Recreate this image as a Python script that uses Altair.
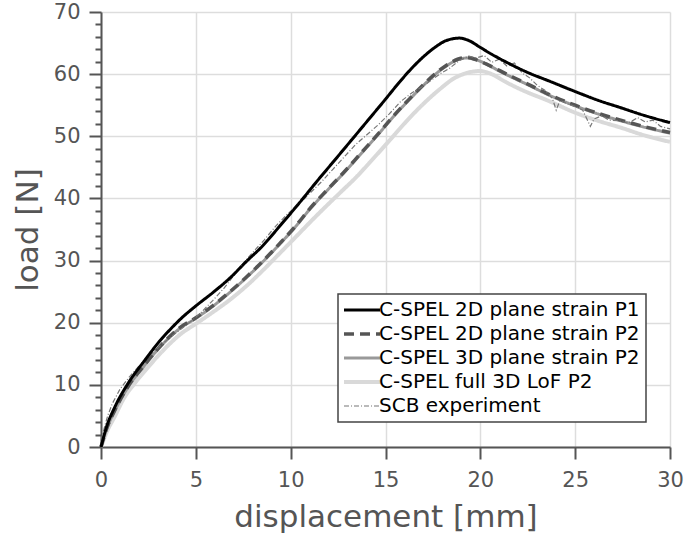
import altair as alt
import pandas as pd

# ---------------- data ----------------
series_names = [
    "C-SPEL 2D plane strain P1",
    "C-SPEL 2D plane strain P2",
    "C-SPEL 3D plane strain P2",
    "C-SPEL full 3D LoF P2",
    "SCB experiment",
]
series_colors = ["#000000", "#555555", "#999999", "#d9d9d9", "#777777"]
series_dashes = [[1, 0], [10, 6], [1, 0], [1, 0], [5, 2, 1, 2]]
series_widths = [3, 3.5, 3, 4, 1.2]

p1_x = [0, 0.3, 0.74, 1.44, 2.32, 3.0, 3.8, 4.16, 5.0, 5.92, 6.8, 7.68, 8.5, 9.44, 10.49,
        11.37, 12.25, 13.1, 14.0, 14.9, 15.76, 16.4, 17.0, 17.6, 18.2, 18.9, 19.4, 20.0,
        20.6, 21.2, 22.4, 23.7, 25.0, 26.2, 27.4, 28.6, 30.0]
p1_y = [0, 3.3, 6.5, 10.3, 14.0, 16.7, 19.4, 20.5, 22.7, 24.9, 27.2, 29.9, 32.3, 35.6, 39.4,
        42.7, 45.9, 49.0, 52.3, 55.6, 58.8, 61.0, 62.8, 64.3, 65.4, 65.8, 65.4, 64.3,
        63.2, 62.2, 60.4, 58.8, 57.2, 55.8, 54.6, 53.4, 52.2]

p2_x = [0, 0.3, 0.74, 1.44, 2.32, 3.0, 4.16, 5.0, 5.92, 6.8, 7.68, 8.56, 9.44, 10.3, 11.02,
        11.9, 12.77, 13.65, 14.53, 15.4, 16.29, 17.0, 17.6, 18.2, 18.8, 19.3, 19.8, 20.33,
        21.0, 21.73, 22.5, 23.5, 25.0, 26.2, 27.4, 28.6, 30.0]
p2_y = [0, 3.0, 6.0, 9.8, 13.3, 15.8, 19.2, 20.8, 22.8, 25.0, 27.4, 30.0, 32.8, 35.7, 38.4,
        41.3, 44.1, 47.1, 50.1, 53.2, 56.1, 58.3, 60.0, 61.4, 62.4, 62.7, 62.3, 61.6,
        60.6, 59.5, 58.4, 56.9, 55.0, 53.7, 52.6, 51.6, 50.6]

p3_x = p2_x
p3_y = [0, 2.9, 5.9, 9.7, 13.2, 15.7, 19.1, 20.7, 22.7, 24.9, 27.3, 29.9, 32.7, 35.6, 38.3,
        41.2, 44.0, 47.0, 50.0, 53.1, 56.0, 58.2, 59.9, 61.3, 62.3, 62.6, 62.3, 61.6,
        60.5, 59.4, 58.3, 56.8, 54.9, 53.6, 52.5, 51.5, 50.5]

lof_x = [0, 0.3, 0.74, 1.2, 1.79, 2.5, 3.2, 4.25, 5.04, 5.9, 6.8, 7.7, 8.56, 9.4, 10.3, 11.0,
         11.72, 12.6, 13.48, 14.35, 15.23, 16.1, 16.99, 17.87, 18.6, 19.3, 19.98, 20.6,
         21.3, 22.09, 23.67, 25.0, 26.2, 27.4, 28.6, 30.0]
lof_y = [0, 2.4, 5.0, 7.8, 10.3, 12.9, 15.3, 18.3, 19.9, 21.7, 23.7, 26.0, 28.5, 31.1, 33.9,
         36.1, 38.3, 40.9, 43.5, 46.4, 49.4, 52.4, 55.2, 57.6, 59.3, 60.2, 60.5, 60.0,
         58.8, 57.6, 55.6, 53.8, 52.5, 51.4, 50.2, 49.1]

exp_x = [0, 0.15, 0.35, 0.6, 1.0, 1.5, 2.0, 2.6, 3.2, 3.8, 4.5, 5.2, 5.9, 6.5, 7.0, 7.5, 8.0,
         8.6, 9.2, 9.8, 10.4, 11.0, 11.6, 12.2, 12.8, 13.4, 14.0, 14.6, 15.2, 15.8, 16.4,
         16.9, 17.4, 17.9, 18.4, 18.9, 19.4, 19.8, 20.2, 20.6, 21.0, 21.4, 21.8, 22.2, 22.6,
         23.0, 23.4, 23.8, 24.0, 24.2, 24.6, 25.0, 25.4, 25.8, 26.0, 26.4, 26.8, 27.3, 27.8,
         28.3, 28.7, 29.1, 29.5, 30.0]
exp_y = [1.0, 2.8, 5.0, 7.0, 9.3, 11.3, 13.0, 14.8, 16.5, 18.0, 19.6, 21.4, 23.6, 25.6, 27.6,
         29.6, 31.3, 33.3, 35.5, 37.4, 39.0, 40.8, 42.6, 44.6, 46.6, 48.6, 50.2, 51.8, 53.6,
         55.6, 57.0, 57.9, 59.0, 60.1, 61.0, 62.2, 62.9, 62.6, 63.0, 61.9, 62.4, 61.3, 61.8,
         60.2, 59.4, 58.2, 57.4, 56.1, 54.2, 55.8, 55.2, 54.8, 54.2, 51.6, 52.8, 53.3, 52.6,
         52.5, 52.1, 53.0, 52.3, 52.6, 51.6, 51.2]

xs = [p1_x, p2_x, p3_x, lof_x, exp_x]
ys = [p1_y, p2_y, p3_y, lof_y, exp_y]

rows = []
for name, sx, sy in zip(series_names, xs, ys):
    for a, b in zip(sx, sy):
        rows.append({"series": name, "disp": a, "load": b})
df = pd.DataFrame(rows)

x_ticks = [0, 5, 10, 15, 20, 25, 30]
y_ticks = list(range(0, 71, 2))

# ---------------- chart ----------------
legend = alt.Legend(
    title=None,
    orient="none",
    legendX=237,
    legendY=282,
    symbolType="M-3,0H3",
    symbolSize=144,
    symbolOffset=8,
    labelOffset=7,
    labelFontSize=20,
    labelColor="#000000",
    labelLimit=400,
    rowPadding=4,
    padding=6,
    strokeColor="#444444",
    fillColor="#ffffff",
)

base = alt.Chart(df).encode(
    x=alt.X(
        "disp:Q",
        scale=alt.Scale(domain=[0, 30], nice=False),
        axis=alt.Axis(
            title="displacement [mm]",
            values=x_ticks,
            tickSize=12,
            labelPadding=10,
            labelFlush=False,
            titleY=79,
            titleBaseline="alphabetic",
        ),
    ),
    y=alt.Y(
        "load:Q",
        scale=alt.Scale(domain=[0, 70], nice=False),
        axis=alt.Axis(
            title="load [N]",
            values=y_ticks,
            labelExpr="datum.value % 10 === 0 ? datum.label : ''",
            tickSize={"condition": {"test": "datum.value % 10 === 0", "value": 12}, "value": 6},
            gridOpacity={"condition": {"test": "datum.value % 10 === 0", "value": 1}, "value": 0},
            labelPadding=9,
            labelFlush=False,
            titleX=-64,
            titleY=217.5,
            titleAngle=-90,
            titleAlign="center",
            titleBaseline="alphabetic",
        ),
    ),
    color=alt.Color("series:N", scale=alt.Scale(domain=series_names, range=series_colors), legend=legend),
    strokeDash=alt.StrokeDash("series:N", scale=alt.Scale(domain=series_names, range=series_dashes), legend=legend),
    strokeWidth=alt.StrokeWidth("series:N", scale=alt.Scale(type="ordinal", domain=series_names, range=series_widths), legend=legend),
)

draw_order = [series_names[3], series_names[2], series_names[1], series_names[4], series_names[0]]
layers = []
for s in draw_order:
    interp = "linear" if s == "SCB experiment" else "monotone"
    layers.append(base.mark_line(strokeCap="butt", interpolate=interp).transform_filter(alt.datum.series == s))

chart = alt.layer(*layers).properties(
    width=569,
    height=435,
    padding={"left": 101, "top": 12, "right": 14, "bottom": 88},
    autosize=alt.AutoSizeParams(type="none"),
).configure(
    font="DejaVu Sans",
).configure_view(
    stroke=None,
).configure_axis(
    labelFontSize=21,
    labelColor="#555555",
    titleFontSize=31,
    titleFontWeight="normal",
    titleColor="#555555",
    domainColor="#555555",
    domainWidth=2,
    tickColor="#555555",
    tickWidth=2,
    gridColor="#dddddd",
    gridWidth=1.5,
).configure_legend(
    strokeWidth=1.5,
)

chart.save("out.html", embed_options={"renderer": "svg", "actions": False})
